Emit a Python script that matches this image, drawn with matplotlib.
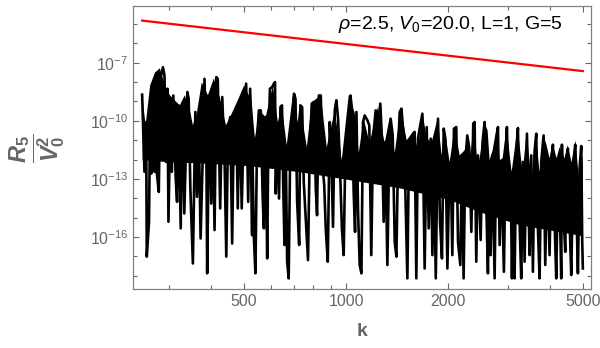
import matplotlib.pyplot as plt
import numpy as np
from matplotlib.ticker import FixedLocator, NullFormatter

plt.rcParams["font.family"] = ["Liberation Sans", "DejaVu Sans"]
plt.rcParams["mathtext.fontset"] = "custom"
plt.rcParams["mathtext.rm"] = "Liberation Sans"
plt.rcParams["mathtext.it"] = "Liberation Sans:italic"
plt.rcParams["mathtext.bf"] = "Liberation Sans:bold"
plt.rcParams["mathtext.bfit"] = "Liberation Sans:bold:italic"

# k values of the oscillating remainder
k_values = [
    250, 254, 257, 258, 262, 264, 266, 269, 272, 274, 276, 280, 283, 288, 291,
    294, 297, 299, 303, 306, 309, 314, 317, 320, 325, 328, 333, 340, 343, 347,
    353, 359, 363, 367, 372, 378, 382, 387, 389, 395, 400, 404, 409, 414, 418,
    425, 431, 438, 443, 448, 455, 461, 466, 474, 479, 485, 492, 499, 507, 514,
    521, 528,
    529, 534, 540, 546, 553, 560, 567, 572, 578, 585, 589, 596, 605, 612, 617,
    620, 627, 634, 640, 647, 652, 658, 664, 670, 677, 685, 694, 702, 709, 717,
    727, 733, 742, 750, 760, 772, 781, 792, 803, 814, 821, 831, 842, 852, 862,
    871, 883, 895, 905, 915, 926, 936, 947, 957, 972, 984, 995, 1006, 1018,
    1030, 1041, 1053, 1063, 1073, 1085, 1097, 1110, 1122,
    1135, 1156, 1171, 1187, 1201, 1223, 1243, 1262, 1277, 1291, 1306, 1324,
    1339, 1354, 1373, 1392, 1408, 1424, 1440, 1457, 1473, 1490, 1517, 1534,
    1551, 1576, 1594, 1612, 1630, 1652, 1680, 1706, 1730, 1754, 1778, 1798,
    1818, 1840, 1868, 1894, 1919, 1942, 1964, 1991, 2013, 2036, 2059, 2082,
    2115, 2140, 2174, 2199, 2223, 2248, 2279, 2311, 2343, 2374,
    2396, 2423, 2451, 2496, 2530, 2564, 2594, 2623, 2647, 2671, 2701, 2745,
    2776, 2808, 2840, 2872, 2924, 2957, 2984, 3025, 3060, 3088, 3116, 3144,
    3180, 3216, 3252, 3289, 3327, 3365, 3419, 3458, 3481, 3521, 3561, 3601,
    3643, 3684, 3726, 3768, 3829, 3872, 3925, 3988, 4034, 4080, 4126, 4173,
    4221, 4269, 4317, 4337, 4386, 4436, 4477, 4517, 4569, 4621, 4684, 4748,
    4791, 4835, 4890, 4946, 4979, 5000,
]

# log10(R5 / V0^2) at those k
log_r5 = [
    -8.65, -12.63, -10.06, -17.01, -15.21, -9.37, -12.72, -8.08, -12.63, -7.65,
    -12.63, -13.67, -7.83, -7.23, -7.65, -12.12, -8.34, -15.21, -9.20, -12.63,
    -8.69, -12.89, -14.18, -9.20, -15.55, -9.29, -14.78, -8.51, -8.86, -13.49,
    -17.36, -9.54, -13.92, -9.89, -16.07, -11.43, -7.83, -11.78, -17.87, -8.69,
    -14.27, -9.20, -15.64, -7.74, -7.83, -14.52, -8.77, -12.12, -17.01, -10.75,
    -9.80, -16.33, -10.57, -9.72, -14.52, -9.11, -14.52, -10.06, -8.08, -14.18,
    -8.34, -15.90,
    -11.43, -15.90, -17.87, -10.92, -9.46, -9.46, -13.84, -15.55, -9.80, -17.10,
    -11.78, -8.34, -8.26, -8.08, -8.00, -13.75, -10.40, -14.01, -9.29, -9.20,
    -13.15, -16.41, -11.78, -17.27, -18.13, -10.57, -10.06, -8.60, -8.86, -14.18,
    -16.41, -9.20, -9.29, -13.15, -15.04, -17.19, -11.60, -9.11, -9.03, -13.49,
    -14.87, -8.69, -8.69, -12.29, -13.32, -15.55, -17.27, -10.06, -11.95, -15.47,
    -9.46, -8.94, -9.89, -11.78, -15.55, -16.93, -11.60, -10.57, -11.78, -8.69,
    -9.37, -13.67, -15.73, -9.54, -14.70, -17.44, -17.87, -10.06,
    -9.72, -9.97, -10.23, -16.93, -10.92, -9.46, -10.23, -9.11, -11.09, -15.21,
    -11.09, -17.44, -12.29, -9.89, -10.75, -16.24, -17.01, -11.60, -9.54, -9.37,
    -10.40, -12.29, -18.13, -11.09, -11.43, -10.66, -10.57, -18.13, -10.92,
    -10.32, -9.63, -17.62, -10.32, -15.55, -10.92, -16.93, -12.12, -18.13,
    -9.89, -15.21, -17.10, -10.40, -10.92, -17.62, -13.49, -12.12, -16.93,
    -10.40, -10.32, -16.24, -17.44, -11.78, -18.13, -12.29, -10.75, -11.43,
    -15.73, -10.14,
    -10.06, -17.27, -11.78, -16.15, -11.09, -10.06, -14.35, -17.87, -12.29,
    -16.93, -11.78, -18.13, -11.09, -10.32, -16.41, -12.29, -17.79, -11.78,
    -10.32, -14.87, -12.63, -18.13, -13.49, -18.13, -11.60, -10.37, -15.21,
    -18.13, -12.12, -17.27, -10.66, -14.35, -16.93, -11.78, -17.79, -11.60,
    -10.66, -15.55, -18.13, -12.12, -10.75, -17.44, -12.29, -16.93, -12.12,
    -11.23, -15.21, -18.13, -12.81, -13.84, -18.13, -11.23, -14.87, -16.76,
    -11.95, -11.43, -15.21, -17.96, -12.29, -11.23, -14.87, -17.87, -12.46,
    -11.30, -16.24, -17.62,
]

# upper outline of the solid core, where the curve overlaps itself
top_k = [
    251, 256, 264, 273, 282, 292, 302, 312, 323, 334, 346, 353, 363, 375, 391,
    407, 424, 442, 457, 479, 500, 516, 523, 538, 556, 579, 608, 629, 646, 668,
    696, 720, 730, 766, 792, 842, 877, 926, 971, 1018, 1061, 1090, 1127, 1174,
    1240, 1300, 1345, 1392, 1449, 1510, 1572, 1627, 1683, 1729, 1789, 1864,
    1915, 1954, 2022, 2092, 2164, 2239, 2285, 2332, 2380, 2445, 2479, 2564,
    2617, 2653, 2708, 2782, 2840, 2898, 2978, 3081, 3209, 3320, 3411, 3529,
    3627, 3726, 3829, 3908, 3988, 4070, 4182, 4269, 4415, 4507, 4631, 4758,
    4856, 4956, 5000,
]
top_log = [
    -8.94, -10.23, -8.17, -7.50, -7.29, -8.17, -8.68, -8.94, -9.20, -8.68,
    -9.46, -10.23, -9.56, -8.01, -8.68, -7.81, -8.79, -10.23, -9.72, -8.94,
    -8.17, -8.68, -8.43, -10.90, -9.46, -9.82, -8.17, -10.08, -9.20, -11.26,
    -8.68, -10.08, -9.10, -11.36, -9.05, -8.68, -11.36, -9.46, -12.03, -8.68,
    -9.61, -11.67, -9.87, -11.16, -9.30, -11.16, -9.82, -11.67, -9.35, -11.00,
    -10.59, -11.42, -9.61, -10.90, -11.11, -9.87, -11.78, -10.38, -12.14,
    -10.33, -11.78, -11.52, -10.75, -11.78, -10.13, -12.29, -11.93, -10.13,
    -10.49, -12.03, -11.52, -10.33, -12.03, -11.93, -10.33, -12.65, -10.33,
    -12.70, -10.64, -13.06, -10.64, -12.65, -10.75, -11.26, -11.93, -11.16,
    -11.93, -11.36, -11.93, -11.26, -12.14, -11.00, -12.81, -11.36, -12.29,
]

# lower edge of the solid core
bottom_k = [251, 302, 370, 520, 730, 1025, 1440, 2022, 2479, 3250, 4270, 5000]
bottom_log = [-12.03, -12.14, -12.19, -12.34, -12.65, -13.06, -13.48, -14.09,
              -14.71, -15.38, -15.74, -15.95]

# red bound line, end points
k_bound = [250, 5000]
bound = [1.5e-5, 3.7e-8]

x_major = [500, 1000, 2000, 5000]
x_minor = [300, 400, 600, 700, 800, 900, 3000, 4000]
y_major = [1e-7, 1e-10, 1e-13, 1e-16]
y_minor = [1e-5, 1e-6, 1e-8, 1e-9, 1e-11, 1e-12, 1e-14, 1e-15, 1e-17, 1e-18]

gray = "#666666"

fig = plt.figure(figsize=(6, 3.48), dpi=100)
ax = fig.add_axes([0.2217, 0.1695, 0.7633, 0.8133])

core_k = np.concatenate([top_k, bottom_k[::-1]])
core_v = 10.0 ** np.concatenate([top_log, bottom_log[::-1]])
ax.fill(core_k, core_v, color="black", lw=0)
ax.plot(k_values, 10.0 ** np.array(log_r5), color="black", lw=1.9)
ax.plot(k_bound, bound, color="#ff0000", lw=1.6)

ax.set_xscale("log")
ax.set_yscale("log")
ax.set_xlim(235, 5285)
ax.set_ylim(10 ** -18.68, 10 ** -4.07)

ax.xaxis.set_major_locator(FixedLocator(x_major))
ax.set_xticklabels([str(v) for v in x_major])
ax.xaxis.set_minor_locator(FixedLocator(x_minor))
ax.xaxis.set_minor_formatter(NullFormatter())
ax.yaxis.set_major_locator(FixedLocator(y_major))
ax.set_yticklabels([r"$10^{-7}$", r"$10^{-10}$", r"$10^{-13}$", r"$10^{-16}$"])
ax.yaxis.set_minor_locator(FixedLocator(y_minor))
ax.yaxis.set_minor_formatter(NullFormatter())

ax.tick_params(which="both", direction="in", top=True, right=True,
               color=gray, labelcolor=gray, labelsize=11.5, width=0.8)
ax.tick_params(which="major", length=4)
ax.tick_params(which="minor", length=3)
for s in ax.spines.values():
    s.set_color("#808080")
    s.set_linewidth(0.9)

ax.text(0.939, 0.918, r"$\rho$=2.5, $V_0$=20.0, L=1, G=5", transform=ax.transAxes,
        ha="right", va="baseline", fontsize=14, color="black")

ax.set_xlabel("k", fontsize=14, fontweight="bold", color=gray, labelpad=10)
fig.text(37.5 / 600, 1 - 148 / 348,
         r"$\dfrac{\mathbfit{R}_{\mathbf{5}}}{\mathbfit{V}_{\mathbf{0}}^{\mathbf{2}}}$",
         rotation=90, ha="center", va="center", fontsize=17, color=gray)

fig.savefig("out.png", dpi=100)
